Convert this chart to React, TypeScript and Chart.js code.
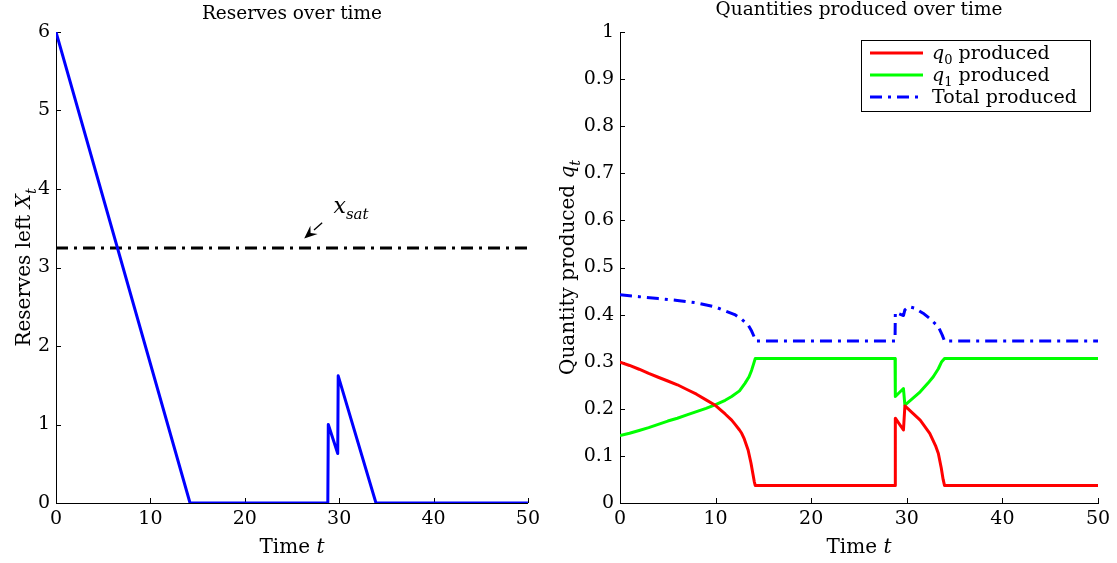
import React, { useEffect, useRef } from "react";
import { Chart, registerables } from "chart.js";
Chart.register(...registerables);

// ---------- data ----------
const timeTicks = [0, 10, 20, 30, 40, 50];
const reserveTicks = [0, 1, 2, 3, 4, 5, 6];
const quantityTicks = [0, 0.1, 0.2, 0.3, 0.4, 0.5, 0.6, 0.7, 0.8, 0.9, 1];

const leftTitle = "Reserves over time";
const rightTitle = "Quantities produced over time";

// Reserves left X_t  [t, X]
const reservePoints: [number, number][] = [
  [0, 6], [14.2, 0], [28.8, 0], [28.85, 1.0], [29.85, 0.63], [29.9, 1.62], [33.9, 0], [50, 0],
];
// saturation level x_sat
const xSatLevel = 3.25;
const xSatSpan = [0, 50];
// annotation "x_sat" arrow (data coords): tail, tip, label anchor
const xSatArrowTail: [number, number] = [28.2, 3.57];
const xSatArrowTip: [number, number] = [26.3, 3.37];
const xSatLabelAt: [number, number] = [29.4, 3.69];

// q0 produced [t, q]
const q0Points: [number, number][] = [
  [0, 0.299], [1, 0.292], [2, 0.284], [3, 0.275], [4, 0.267], [5, 0.259], [6, 0.251], [7, 0.241],
  [8, 0.231], [9, 0.219], [10, 0.207], [11, 0.189], [11.68, 0.176], [12, 0.168], [12.5, 0.155],
  [12.73, 0.148], [13, 0.136], [13.4, 0.1125], [13.7, 0.085], [13.9, 0.062], [14.05, 0.045],
  [14.15, 0.037], [28.77, 0.037], [28.8, 0.18], [29.65, 0.155], [29.8, 0.206], [30.5, 0.193],
  [31.4, 0.176], [32.4, 0.148], [33.0, 0.122], [33.3, 0.105], [33.6, 0.075], [33.8, 0.05],
  [33.95, 0.037], [50, 0.037],
];
// q1 produced [t, q]
const q1Points: [number, number][] = [
  [0, 0.143], [1, 0.148], [2, 0.154], [3, 0.16], [4, 0.167], [5, 0.174], [6, 0.18], [7, 0.187],
  [8, 0.194], [9, 0.201], [10, 0.209], [11, 0.218], [11.68, 0.226], [12.5, 0.238], [13.07, 0.254],
  [13.5, 0.268], [13.77, 0.282], [14.0, 0.297], [14.15, 0.307], [28.77, 0.307], [28.8, 0.226],
  [29.65, 0.243], [29.8, 0.208], [30.5, 0.22], [31.4, 0.236], [32.2, 0.254], [32.77, 0.268],
  [33.3, 0.285], [33.65, 0.3], [33.95, 0.307], [50, 0.307],
];
// Total produced [t, q]
const totalPoints: [number, number][] = [
  [0, 0.442], [2, 0.438], [4, 0.434], [6, 0.43], [8, 0.425], [10, 0.416], [11, 0.408], [12, 0.4],
  [12.73, 0.39], [13.4, 0.378], [13.77, 0.365], [14.05, 0.352], [14.2, 0.344], [28.77, 0.344],
  [28.8, 0.405], [29.65, 0.398], [29.8, 0.41], [30.2, 0.417], [30.8, 0.414], [31.7, 0.403],
  [32.5, 0.39], [33.3, 0.374], [33.7, 0.357], [33.95, 0.344], [50, 0.344],
];

// ---------- styling ----------
const SERIF = "'DejaVu Serif', serif";
const DASH_DOT = [12, 6, 3, 6];

type Part = { t: string; it?: boolean; sub?: boolean };

function partFont(p: Part, size: number) {
  const s = p.sub ? Math.round(size * 0.7) : size;
  return `${p.it ? "italic " : ""}${s}px ${SERIF}`;
}
function richWidth(ctx: CanvasRenderingContext2D, parts: Part[], size: number) {
  let w = 0;
  for (const p of parts) {
    ctx.font = partFont(p, size);
    w += ctx.measureText(p.t).width;
  }
  return w;
}
function drawRich(ctx: CanvasRenderingContext2D, parts: Part[], x: number, y: number, size: number) {
  let cx = x;
  ctx.textBaseline = "alphabetic";
  ctx.textAlign = "left";
  for (const p of parts) {
    ctx.font = partFont(p, size);
    ctx.fillText(p.t, cx, y + (p.sub ? size * 0.28 : 0));
    cx += ctx.measureText(p.t).width;
  }
}

type LegendItem = { parts: Part[]; color: string; dash: number[] };
type DecorOpts = {
  title: string;
  titleBaseline: number;
  xTitle: Part[];
  yTitle: Part[];
  yTitleBaselineX: number;
  legend?: LegendItem[];
  annotate?: boolean;
};

function decorPlugin(o: DecorOpts) {
  return {
    id: "decor",
    beforeDatasetsDraw(chart: any) {
      const ctx = chart.ctx as CanvasRenderingContext2D;
      const { left, bottom } = chart.chartArea;
      const xs = chart.scales.x;
      const ys = chart.scales.y;
      ctx.save();
      ctx.strokeStyle = "#000";
      ctx.lineWidth = 1;
      ctx.beginPath();
      for (const t of xs.ticks) {
        const px = Math.round(xs.getPixelForValue(t.value)) + 0.5;
        ctx.moveTo(px, bottom);
        ctx.lineTo(px, bottom - 5);
      }
      for (const t of ys.ticks) {
        const py = Math.round(ys.getPixelForValue(t.value)) + 0.5;
        ctx.moveTo(left, py);
        ctx.lineTo(left + 5, py);
      }
      ctx.stroke();
      ctx.restore();
    },
    afterDraw(chart: any) {
      const ctx = chart.ctx as CanvasRenderingContext2D;
      const ca = chart.chartArea;
      const xs = chart.scales.x;
      const ys = chart.scales.y;
      const cxm = (ca.left + ca.right) / 2;
      ctx.save();
      ctx.fillStyle = "#000";
      // title
      ctx.font = `18.5px ${SERIF}`;
      ctx.textAlign = "center";
      ctx.textBaseline = "alphabetic";
      ctx.fillText(o.title, cxm, o.titleBaseline);
      // x title
      const size = 20;
      const xw = richWidth(ctx, o.xTitle, size);
      drawRich(ctx, o.xTitle, cxm - xw / 2, 553, size);
      // y title (rotated)
      const yw = richWidth(ctx, o.yTitle, size);
      ctx.save();
      ctx.translate(o.yTitleBaselineX, (ca.top + ca.bottom) / 2);
      ctx.rotate(-Math.PI / 2);
      drawRich(ctx, o.yTitle, -yw / 2, 0, size);
      ctx.restore();

      if (o.annotate) {
        const tx = xs.getPixelForValue(xSatArrowTail[0]);
        const ty = ys.getPixelForValue(xSatArrowTail[1]);
        const hx = xs.getPixelForValue(xSatArrowTip[0]);
        const hy = ys.getPixelForValue(xSatArrowTip[1]);
        const ang = Math.atan2(hy - ty, hx - tx);
        const headLen = 13;
        const headW = 5.5;
        const bx = hx - headLen * Math.cos(ang);
        const by = hy - headLen * Math.sin(ang);
        ctx.strokeStyle = "#000";
        ctx.lineWidth = 1.3;
        ctx.beginPath();
        ctx.moveTo(tx, ty);
        ctx.lineTo(bx, by);
        ctx.stroke();
        ctx.beginPath();
        ctx.moveTo(hx, hy);
        ctx.lineTo(bx + headW * Math.sin(ang), by - headW * Math.cos(ang));
        ctx.lineTo(bx + 0.35 * headLen * Math.cos(ang), by + 0.35 * headLen * Math.sin(ang));
        ctx.lineTo(bx - headW * Math.sin(ang), by + headW * Math.cos(ang));
        ctx.closePath();
        ctx.fill();
        const lx = xs.getPixelForValue(xSatLabelAt[0]);
        const ly = ys.getPixelForValue(xSatLabelAt[1]);
        drawRich(ctx, [{ t: "x", it: true }, { t: "sat", it: true, sub: true }], lx, ly, 22);
      }

      if (o.legend) {
        const bw = 229;
        const bh = 71;
        const bxl = ca.right - 8 - bw;
        const byt = ca.top + 8;
        ctx.fillStyle = "#fff";
        ctx.fillRect(bxl, byt, bw, bh);
        ctx.strokeStyle = "#000";
        ctx.lineWidth = 1;
        ctx.strokeRect(Math.round(bxl) + 0.5, Math.round(byt) + 0.5, bw, bh);
        o.legend.forEach((it, i) => {
          const cy = byt + 13 + i * 22;
          ctx.strokeStyle = it.color;
          ctx.lineWidth = 3;
          ctx.setLineDash(it.dash);
          ctx.beginPath();
          ctx.moveTo(bxl + 9, cy);
          ctx.lineTo(bxl + 62, cy);
          ctx.stroke();
          ctx.setLineDash([]);
          ctx.fillStyle = "#000";
          drawRich(ctx, it.parts, bxl + 71, cy + 6, 19);
        });
      }
      ctx.restore();
    },
  };
}

const tickFont = { family: SERIF, size: 19 };
const noGrid = { display: false, drawTicks: false, tickLength: 0 };

function xScale() {
  return {
    type: "linear",
    min: 0,
    max: 50,
    afterBuildTicks: (s: any) => {
      s.ticks = timeTicks.map((v) => ({ value: v }));
    },
    afterFit: (s: any) => {
      s.height = 60;
    },
    grid: noGrid,
    border: { display: true, color: "#000", width: 1 },
    ticks: { font: tickFont, color: "#000", padding: 5, maxRotation: 0, autoSkip: false },
  };
}

function line(points: [number, number][], color: string, dash: number[] = []) {
  return {
    data: points.map(([x, y]) => ({ x, y })),
    borderColor: color,
    borderWidth: 3,
    borderDash: dash,
    pointRadius: 0,
    tension: 0,
    fill: false,
    borderCapStyle: "butt",
    borderJoinStyle: "round",
  };
}

function leftConfig(): any {
  return {
    type: "line",
    data: {
      datasets: [
        line(reservePoints, "#0000ff"),
        line(xSatSpan.map((t) => [t, xSatLevel] as [number, number]), "#000000", DASH_DOT),
      ],
    },
    options: {
      responsive: false,
      animation: false,
      devicePixelRatio: 1,
      layout: { padding: { left: 0, right: 17, top: 32, bottom: 0 } },
      plugins: {
        legend: { display: false },
        tooltip: { enabled: false },
        title: { display: false, text: leftTitle },
      },
      scales: {
        x: xScale(),
        y: {
          type: "linear",
          min: 0,
          max: 6,
          afterBuildTicks: (s: any) => {
            s.ticks = reserveTicks.map((v) => ({ value: v }));
          },
          afterFit: (s: any) => {
            s.width = 56;
          },
          grid: noGrid,
          border: { display: true, color: "#000", width: 1 },
          ticks: { font: tickFont, color: "#000", padding: 6 },
        },
      },
    },
    plugins: [
      decorPlugin({
        title: leftTitle,
        titleBaseline: 19,
        xTitle: [{ t: "Time " }, { t: "t", it: true }],
        yTitle: [{ t: "Reserves left " }, { t: "X", it: true }, { t: "t", it: true, sub: true }],
        yTitleBaselineX: 30,
        annotate: true,
      }),
    ],
  };
}

function rightConfig(): any {
  return {
    type: "line",
    data: {
      datasets: [
        line(q0Points, "#ff0000"),
        line(q1Points, "#00ff00"),
        line(totalPoints, "#0000ff", DASH_DOT),
      ],
    },
    options: {
      responsive: false,
      animation: false,
      devicePixelRatio: 1,
      layout: { padding: { left: 0, right: 19, top: 32, bottom: 0 } },
      plugins: {
        legend: { display: false },
        tooltip: { enabled: false },
        title: { display: false, text: rightTitle },
      },
      scales: {
        x: xScale(),
        y: {
          type: "linear",
          min: 0,
          max: 1,
          afterBuildTicks: (s: any) => {
            s.ticks = quantityTicks.map((v) => ({ value: v }));
          },
          afterFit: (s: any) => {
            s.width = 75;
          },
          grid: noGrid,
          border: { display: true, color: "#000", width: 1 },
          ticks: {
            font: tickFont,
            color: "#000",
            padding: 6,
            callback: (v: number) => String(Number(v.toFixed(1))),
          },
        },
      },
    },
    plugins: [
      decorPlugin({
        title: rightTitle,
        titleBaseline: 15,
        xTitle: [{ t: "Time " }, { t: "t", it: true }],
        yTitle: [{ t: "Quantity produced " }, { t: "q", it: true }, { t: "t", it: true, sub: true }],
        yTitleBaselineX: 29,
        legend: [
          { parts: [{ t: "q", it: true }, { t: "0", sub: true }, { t: " produced" }], color: "#ff0000", dash: [] },
          { parts: [{ t: "q", it: true }, { t: "1", sub: true }, { t: " produced" }], color: "#00ff00", dash: [] },
          { parts: [{ t: "Total produced" }], color: "#0000ff", dash: DASH_DOT },
        ],
      }),
    ],
  };
}

export default function App() {
  const leftRef = useRef<HTMLCanvasElement>(null);
  const rightRef = useRef<HTMLCanvasElement>(null);
  useEffect(() => {
    const l = new Chart(leftRef.current as HTMLCanvasElement, leftConfig());
    const r = new Chart(rightRef.current as HTMLCanvasElement, rightConfig());
    return () => {
      l.destroy();
      r.destroy();
    };
  }, []);
  return (
    <div style={{ position: "fixed", left: 0, top: 0, width: 1117, height: 563, background: "#fff" }}>
      <canvas
        ref={leftRef}
        width={545}
        height={563}
        style={{ position: "absolute", left: 0, top: 0, width: 545, height: 563, display: "block" }}
      />
      <canvas
        ref={rightRef}
        width={572}
        height={563}
        style={{ position: "absolute", left: 545, top: 0, width: 572, height: 563, display: "block" }}
      />
    </div>
  );
}
